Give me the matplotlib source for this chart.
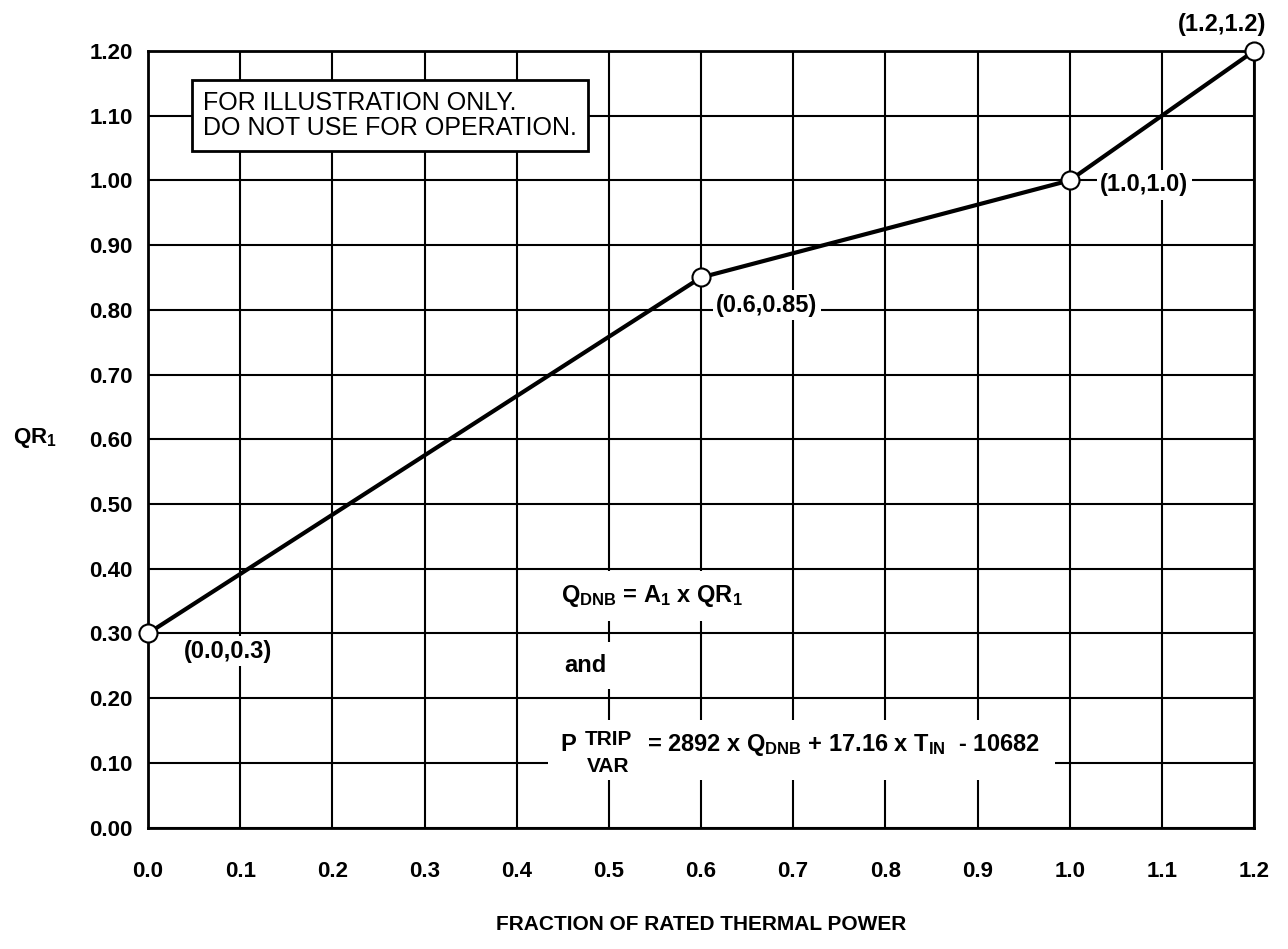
#!/usr/bin/env python3
"""
QR1 vs fraction of rated thermal power (variable trip setpoint curve).
Run: python3 plot.py  -> out.png
"""

import numpy as np
import matplotlib
matplotlib.use("Agg")
import matplotlib.pyplot as plt
from matplotlib.patches import Rectangle

plt.rcParams['font.family'] = ['Liberation Sans', 'DejaVu Sans']
plt.rcParams['mathtext.fontset'] = 'custom'
plt.rcParams['mathtext.rm'] = 'Liberation Sans:bold'
plt.rcParams['mathtext.it'] = 'Liberation Sans:bold'
plt.rcParams['mathtext.bf'] = 'Liberation Sans:bold'

# data
power = [0.0, 0.6, 1.0, 1.2]
qr1 = [0.3, 0.85, 1.0, 1.2]
point_labels = ["(0.0,0.3)", "(0.6,0.85)", "(1.0,1.0)", "(1.2,1.2)"]

x_ticks = [0.0, 0.1, 0.2, 0.3, 0.4, 0.5, 0.6, 0.7, 0.8, 0.9, 1.0, 1.1, 1.2]
y_ticks = [0.0, 0.1, 0.2, 0.3, 0.4, 0.5, 0.6, 0.7, 0.8, 0.9, 1.0, 1.1, 1.2]

W, H = 1288, 949
fig = plt.figure(figsize=(W / 100, H / 100), dpi=100)
ax = fig.add_axes([148 / W, 1 - 827.5 / H, 1106 / W, 776.5 / H])

ax.set_xlim(0, 1.2)
ax.set_ylim(0, 1.2)
ax.set_xticks(x_ticks)
ax.set_yticks(y_ticks)
ax.set_xticklabels([f"{v:.1f}" for v in x_ticks])
ax.set_yticklabels([f"{v:.2f}" for v in y_ticks])
ax.tick_params(length=0, labelsize=16)
ax.tick_params(axis='x', pad=24)
ax.tick_params(axis='y', pad=11)
for lab in ax.get_xticklabels() + ax.get_yticklabels():
    lab.set_fontweight('bold')

ax.grid(True, color='black', linewidth=1.5)
ax.set_axisbelow(True)
for sp in ax.spines.values():
    sp.set_linewidth(2)
    sp.set_color('black')
    sp.set_zorder(1)

# the curve
ax.plot(power, qr1, color='black', linewidth=3, zorder=4)
ax.plot(power, qr1, linestyle='none', marker='o', markersize=13,
        markerfacecolor='white', markeredgecolor='black', markeredgewidth=1.5,
        zorder=6, clip_on=False)

# point labels (offsets in points)
offsets = [(26, -13, 'left'), (11, -20, 'left'), (22, -3, 'left'), (-23, 19, 'center')]
bg = dict(boxstyle='square,pad=0.15', facecolor='white', edgecolor='none')
for x, y, lab, (dx, dy, ha) in zip(power, qr1, point_labels, offsets):
    ax.annotate(lab, xy=(x, y), xytext=(dx, dy), textcoords='offset points',
                ha=ha, va='center', fontsize=17, fontweight='bold',
                bbox=bg, zorder=5, annotation_clip=False)

# disclaimer box
ax.text(0.060, 1.10, "FOR ILLUSTRATION ONLY.\nDO NOT USE FOR OPERATION.",
        ha='left', va='center', fontsize=18, linespacing=1.05, zorder=5,
        bbox=dict(boxstyle='square,pad=0.45', facecolor='white',
                  edgecolor='black', linewidth=2))

# equations
ax.text(0.448, 0.358, r"Q$_{\rm DNB}$ = A$_{\rm 1}$ x QR$_{\rm 1}$",
        ha='left', va='center', fontsize=17, fontweight='bold', zorder=5,
        bbox=dict(boxstyle='square,pad=0.5', facecolor='white', edgecolor='none'))
ax.text(0.452, 0.250, "and", ha='left', va='center', fontsize=17,
        fontweight='bold', zorder=5,
        bbox=dict(boxstyle='square,pad=0.5', facecolor='white', edgecolor='none'))

ax.add_patch(Rectangle((0.434, 0.073), 0.55, 0.093, facecolor='white',
                       edgecolor='none', zorder=3))
ax.text(0.447, 0.128, "P", ha='left', va='center', fontsize=17,
        fontweight='bold', zorder=5)
ax.text(0.474, 0.136, "TRIP", ha='left', va='center', fontsize=15,
        fontweight='bold', zorder=5)
ax.text(0.476, 0.095, "VAR", ha='left', va='center', fontsize=15,
        fontweight='bold', zorder=5)
ax.text(0.541, 0.128,
        r"= 2892 x Q$_{\rm DNB}$ + 17.16 x T$_{\rm IN}$  - 10682",
        ha='left', va='center', fontsize=17, fontweight='bold', zorder=5)

# axis titles
fig.text(13 / W, 1 - 438 / H, r"QR$_{\rm 1}$", ha='left', va='center',
         fontsize=16, fontweight='bold')
fig.text(701 / W, 1 - 925 / H, "FRACTION OF RATED THERMAL POWER",
         ha='center', va='center', fontsize=15, fontweight='bold')

fig.savefig("out.png", dpi=100, facecolor='white')
